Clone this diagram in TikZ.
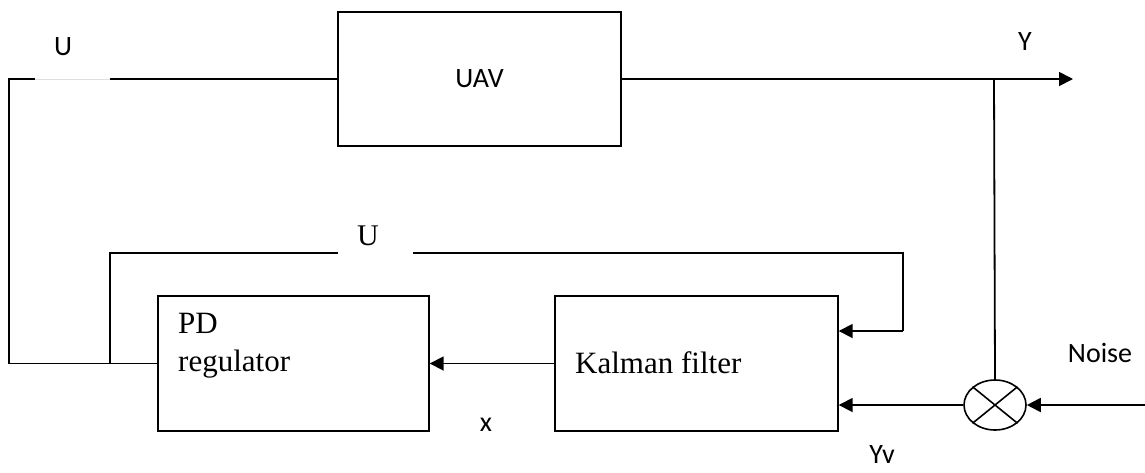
\documentclass[tikz,border=0pt]{standalone}
\usepackage{fontspec}
\setmainfont{Liberation Serif}
\newfontfamily\lblfont{Carlito}
\usepackage{tikz}
\usetikzlibrary{positioning}
\usetikzlibrary{arrows.meta}
\usetikzlibrary{shapes.geometric, calc}

\begin{document}
\begin{tikzpicture}[x=1pt, y=-1pt,
    block/.style={draw, rectangle, line width=1.4pt, inner sep=0pt},
    wire/.style={line width=1.8pt},
    sig/.style={wire, -{Triangle[length=14pt, width=14pt]}},
    lbl/.style={font=\lblfont\fontsize{28}{30}\selectfont, inner sep=0pt},
    txt/.style={font=\fontsize{31}{38}\selectfont, inner sep=0pt, anchor=base west}]
    \useasboundingbox (0,0) rectangle (1145,472);

    % blocks
    \node[block, minimum width=283pt, minimum height=134pt, font=\lblfont\fontsize{28}{30}\selectfont] (uav) at (479.5,79) {UAV};
    \node[block, minimum width=271pt, minimum height=135pt] (pd) at (293.5,363.5) {};
    \node[block, minimum width=283pt, minimum height=135pt] (kf) at (696.5,363.5) {};
    \node[draw, ellipse, line width=1.6pt, minimum width=62pt, minimum height=50pt, inner sep=0pt] (mix) at (995,405) {};
    \draw[line width=1.6pt] (mix.north west) -- (mix.south east) (mix.south west) -- (mix.north east);

    % block texts
    \node[txt] (pdname) at (178,333) {PD};
    \node[txt] (pdrole) at (178,371) {regulator};
    \node[txt] (kfname) at (575,373) {Kalman filter};

    % labels
    \node[lbl] (utop) at (63,47) {U};
    \node[inner sep=0pt, font=\fontsize{30}{30}\selectfont] (ubot) at (368,236) {U};
    \node[lbl] (yout) at (1025,42) {Y};
    \node[lbl] (noise) at (1100,353) {Noise};
    \node[lbl] (yv) at (882,455) {Yv};
    \node[lbl] (xest) at (486,425) {x};

    % corner points
    \coordinate (tl) at (9,79);
    \coordinate (bl) at (9,363.5);
    \coordinate (gapa) at (35,79);
    \coordinate (gapb) at (110,79);
    \coordinate (yend) at (1073,79);
    \coordinate (branch) at (994,79);
    \coordinate (noisein) at (1145,405);
    \coordinate (fbl) at (110,363.5);
    \coordinate (fbtl) at (110,253);
    \coordinate (fbga) at (338,253);
    \coordinate (fbgb) at (413,253);
    \coordinate (fbtr) at (903,253);
    \coordinate (fbbr) at (903,331);

    \draw[wire] (pd.west |- bl) -- (bl) -- (tl) -- (gapa);
    \draw[gray!25, line width=1pt] (gapa) -- (gapb);
    \draw[wire] (gapb) -- (uav.west);
    \draw[sig] (uav.east) -- (yend);
    \draw[wire] (branch) -- (mix.north);
    \draw[sig] (noisein) -- (mix.east);
    \draw[sig] (mix.west) -- (kf.east |- mix.west);
    \draw[sig] (kf.west) -- (pd.east);
    \draw[wire] (fbl) -- (fbtl) -- (fbga);
    \draw[wire] (fbgb) -- (fbtr) -- (fbbr);
    \draw[sig] (fbbr) -- (kf.east |- fbbr);
\end{tikzpicture}
\end{document}
